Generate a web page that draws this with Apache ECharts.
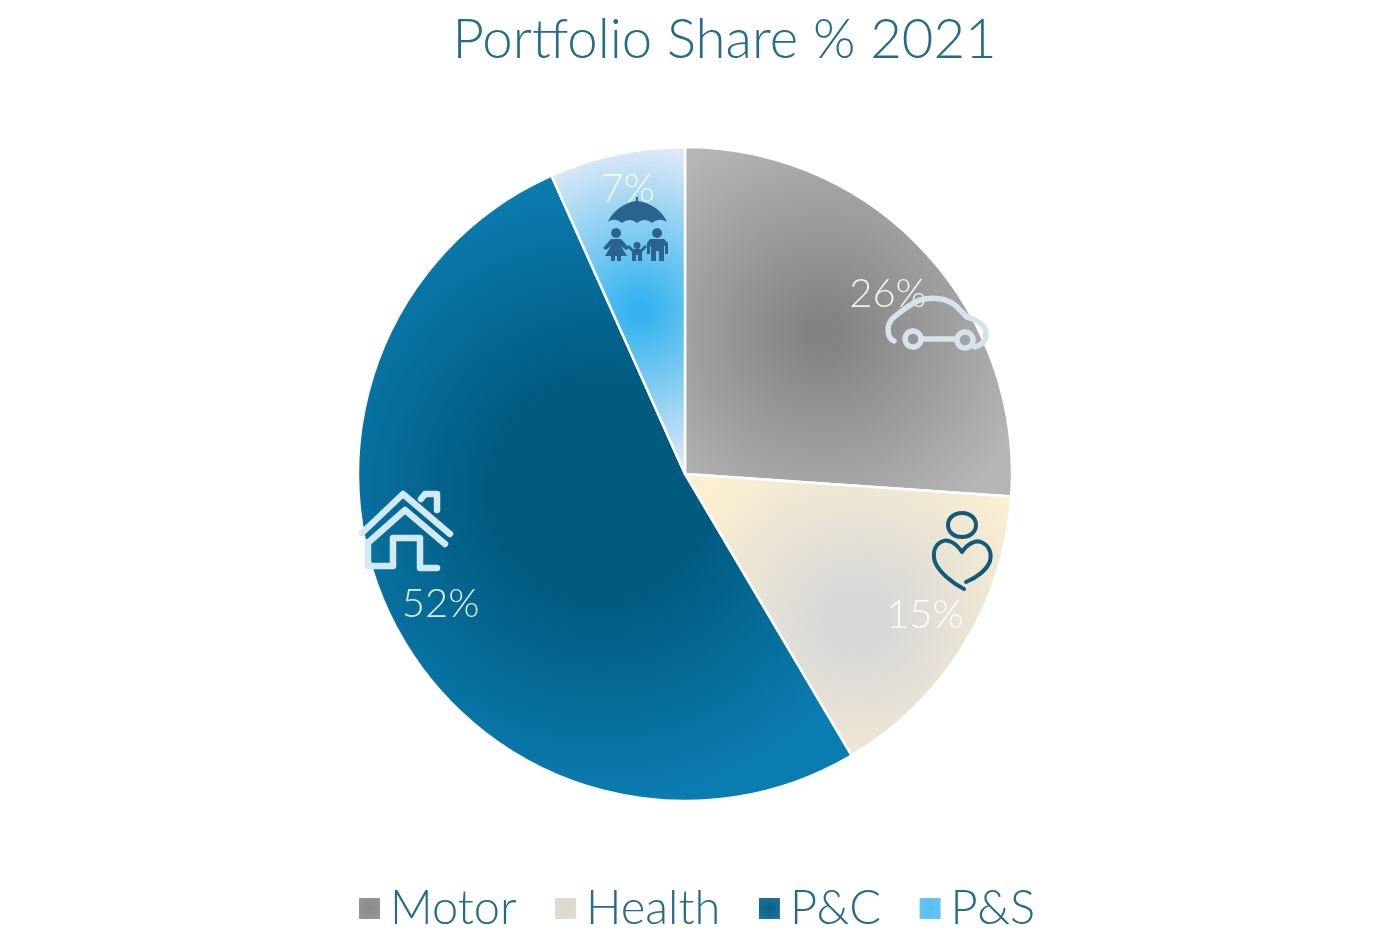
<!DOCTYPE html>
<html>
<head>
<meta charset="utf-8">
<title>Portfolio Share % 2021</title>
<script src="https://cdn.jsdelivr.net/npm/echarts@6/dist/echarts.min.js"></script>
<style>
  html, body { margin: 0; padding: 0; background: #fff; }
  #chart { width: 1377px; height: 946px; }
</style>
</head>
<body>
<div id="chart"></div>
<script>
const categories = ['Motor', 'Health', 'P&C', 'P&S']
const shares = [26.1, 15.4, 51.8, 6.7]

const FONT = 'Lato'
const TEXT_COLOR = '#256b8c'
const CENTER = [685, 474]
const RADIUS = 327
const LABEL_RADIUS = 278

// slice shading: [gradient x, y, r, flat part, centre colour, rim colour]
const shades = [
  [823, 332, 215, 0.08, '#838383', '#b5b5b5'],
  [857, 620, 195, 0.15, '#d8d8d9', '#fcf0d0'],
  [600, 490, 310, 0.35, '#015a80', '#0b7cb0'],
  [640, 310, 165, 0.06, '#35b3ef', '#e0eaf6']
]
const legendShades = ['#8a8a8a', '#dcd8cc', '#07618a', '#58bdf0']
// small per label corrections, px
const labelNudges = [[-4, 13], [-1, -8], [7, 0], [2, -8]]

function sliceColor([x, y, r, flat, inner, rim]) {
  return {
    type: 'radial', x, y, r, global: true,
    colorStops: [
      { offset: 0, color: inner },
      { offset: flat, color: inner },
      { offset: 1, color: rim }
    ]
  }
}

function legendColor(color) {
  return {
    type: 'radial', x: 0.5, y: 0.5, r: 0.6,
    colorStops: [
      { offset: 0, color },
      { offset: 1, color: echarts.color.lift(color, 0.12) }
    ]
  }
}

// hand traced icons, page pixels
const icons = [
  { // car
    stroke: '#d5e4ea', lineWidth: 5.5,
    pathData: 'M894,341 C887,338 886,326 892,319 C900,312 910,304 920,300 C932,297 945,298 955,305 L967,317 C978,320 986,326 986,334 C986,342 981,345 975,347 M921,339 L956,339 M913,331 A8,8 0 1 0 913.1,331 M965,332 A8,8 0 1 0 965.1,332'
  },
  { // heart person
    stroke: '#12597c', lineWidth: 4,
    pathData: 'M962,552 C956,543 948,539 943,541 C935,544 932,552 935,562 C939,572 952,583 964,589 M962,552 C968,543 976,540 981,542 C989,545 992,553 990,561 C987,570 976,578 966,582 M962,513 C954,513 948,518 948,525 C948,532 954,537 962,537 C970,537 976,532 976,525 C976,518 970,513 962,513 Z'
  },
  { // house
    stroke: '#d3e9f4', lineWidth: 6.5,
    pathData: 'M362,533 L403,494 L450,534 M370,541 L405,510 L445,544 M421,499 L425,494 L437,494 L437,510 M368,542 L368,566 L393,566 L393,538 L420,538 L420,568 L437,568'
  },
  { // umbrella and family
    fill: '#2b6390',
    pathData: 'M636,197 L638,197 L638,201 C652,203 663,212 667,222 C662,219 657,219 652,223 C647,219 642,219 637,223 C632,219 627,219 622,223 C617,219 612,219 608,222 C612,212 623,203 636,201 Z' +
      ' M616,228 A5,5 0 1 0 616.1,228 Z M611,239 L621,239 L629,248 L626,250 L621,246 L627,256 L621,256 L621,261 L617,261 L617,256 L615,256 L615,261 L611,261 L611,256 L605,256 L611,246 L606,250 L603,248 Z' +
      ' M637,242 A3.5,3.5 0 1 0 637.1,242 Z M633,249 L641,249 L645,245 L647,247 L642,252 L642,261 L638,261 L638,255 L636,255 L636,261 L632,261 L632,252 L627,247 L629,245 Z' +
      ' M657,228 A5,5 0 1 0 657.1,228 Z M650,239 L664,239 L668,243 L668,254 L665,254 L665,246 L664,246 L664,261 L659,261 L659,251 L656,251 L656,261 L651,261 L651,246 L650,246 L650,254 L647,254 L647,243 Z'
  }
]

// the graphic component has no plain path type, so each icon gets its own shape
icons.forEach((icon, i) => {
  echarts.graphic.registerShape('icon' + i, echarts.graphic.extendPath(icon.pathData, {}))
})

const chart = echarts.init(document.getElementById('chart'), null, { renderer: 'canvas' })

chart.setOption({
  animation: false,
  backgroundColor: '#fff',
  title: {
    text: 'Portfolio Share % 2021',
    left: 719.5,
    top: 8,
    textAlign: 'center',
    textStyle: { fontFamily: FONT, fontSize: 54.5, fontWeight: 300, color: TEXT_COLOR }
  },
  legend: {
    data: categories.map((name, i) => ({
      name,
      itemStyle: { color: legendColor(legendShades[i]) }
    })),
    left: 352,
    top: 880,
    icon: 'rect',
    itemWidth: 23,
    itemHeight: 23,
    itemGap: 36.5,
    selectedMode: false,
    textStyle: { fontFamily: FONT, fontSize: 47, fontWeight: 300, color: TEXT_COLOR, padding: [0, 0, 0, 4] }
  },
  series: [{
    type: 'pie',
    center: CENTER,
    radius: RADIUS,
    startAngle: 90,
    clockwise: true,
    silent: true,
    data: categories.map((name, i) => ({
      name,
      value: shares[i],
      itemStyle: { color: sliceColor(shades[i]) }
    })),
    itemStyle: { borderColor: '#fff', borderWidth: 2.5 },
    label: {
      show: true,
      position: 'inside',
      formatter: p => Math.round(p.value) + '%',
      fontFamily: FONT,
      fontSize: 40,
      fontWeight: 300,
      color: 'rgba(255,255,255,0.88)'
    },
    labelLine: { show: false },
    // inside labels sit at mid radius, push them out towards the rim
    labelLayout(params) {
      const r = params.labelRect
      const k = LABEL_RADIUS / (RADIUS / 2) - 1
      const nudge = labelNudges[params.dataIndex]
      return {
        dx: (r.x + r.width / 2 - CENTER[0]) * k + nudge[0],
        dy: (r.y + r.height / 2 - CENTER[1]) * k + nudge[1]
      }
    }
  }],
  graphic: icons.map((icon, i) => ({
    type: 'icon' + i,
    z: 100,
    silent: true,
    style: {
      fill: icon.fill || 'none',
      stroke: icon.stroke || 'none',
      lineWidth: icon.lineWidth || 0,
      lineCap: 'round',
      lineJoin: 'round'
    }
  }))
})
</script>
</body>
</html>
